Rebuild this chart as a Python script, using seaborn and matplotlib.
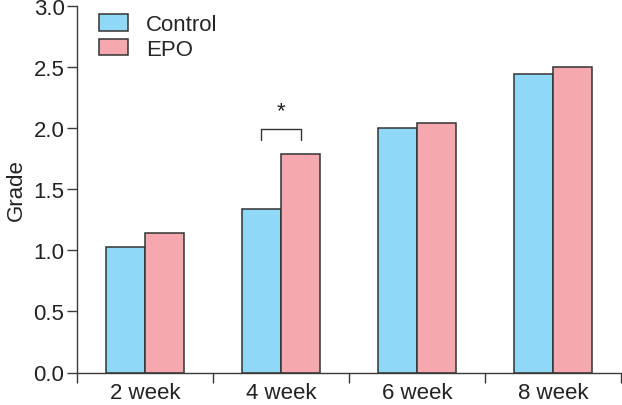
import matplotlib
matplotlib.use("Agg")
import matplotlib.pyplot as plt
import seaborn as sns
import pandas as pd
import numpy as np
from matplotlib.ticker import FixedLocator, FormatStrFormatter

weeks = ["2 week", "4 week", "6 week", "8 week"]
control = [1.03, 1.34, 2.00, 2.44]
epo = [1.14, 1.79, 2.04, 2.50]
groups = ["Control", "EPO"]
colors = ["#8fd9f6", "#f5a9ae"]
yticks = [0.0, 0.5, 1.0, 1.5, 2.0, 2.5, 3.0]

df = pd.DataFrame({
    "week": weeks * 2,
    "Grade": control + epo,
    "group": [groups[0]] * len(weeks) + [groups[1]] * len(weeks),
})

sns.set_style("ticks")
plt.rcParams["font.family"] = ["Liberation Sans", "DejaVu Sans"]
fs = 16
axc = "#3a3a3a"

fig = plt.figure(figsize=(6.22, 4.06), dpi=100)
ax = fig.add_axes([77 / 622, 1 - 373.5 / 406, 544 / 622, 366.5 / 406])

sns.barplot(data=df, x="week", y="Grade", hue="group", order=weeks,
            hue_order=groups, palette=colors, width=0.58, gap=0,
            edgecolor="#333333", linewidth=1.1, saturation=1, ax=ax,
            legend=True)

ax.set_xlim(-0.5, 3.5)
ax.set_ylim(0, 3.0)
ax.set_yticks(yticks)
ax.yaxis.set_major_formatter(FormatStrFormatter("%.1f"))
ax.set_xlabel("")
ax.set_ylabel("Grade", fontsize=fs, color="#222222", labelpad=5)

# x ticks: labels at centers, tick marks at category boundaries
ax.tick_params(axis="x", which="major", length=0, labelsize=fs,
               colors="#222222", pad=7)
ax.xaxis.set_minor_locator(FixedLocator(np.arange(-0.5, 4.0, 1.0)))
ax.tick_params(axis="x", which="minor", length=7, width=1.0, color=axc)
ax.tick_params(axis="y", length=7, width=1.0, color=axc, labelsize=fs,
               labelcolor="#222222", pad=2)

for s in ["top", "right"]:
    ax.spines[s].set_visible(False)
for s in ["left", "bottom"]:
    ax.spines[s].set_color(axc)
    ax.spines[s].set_linewidth(1.0)

# significance bracket for 4 week
i = weeks.index("4 week")
xl, xr = i - 0.145, i + 0.145
ytop, ybot = 1.99, 1.90
ax.plot([xl, xl, xr, xr], [ybot, ytop, ytop, ybot], color="#333333",
        lw=1.0, clip_on=False)
ax.text(i, 2.14, "*", ha="center", va="center", fontsize=fs,
        color="#222222")

handles, labels = ax.get_legend_handles_labels()
ax.legend(handles, labels, loc="upper left",
          bbox_to_anchor=(22 / 544, 0.978), frameon=False, fontsize=fs,
          handlelength=1.3, handleheight=0.77, handletextpad=0.8,
          labelspacing=0.16, borderpad=0, borderaxespad=0)

fig.savefig("out.png", dpi=100)
